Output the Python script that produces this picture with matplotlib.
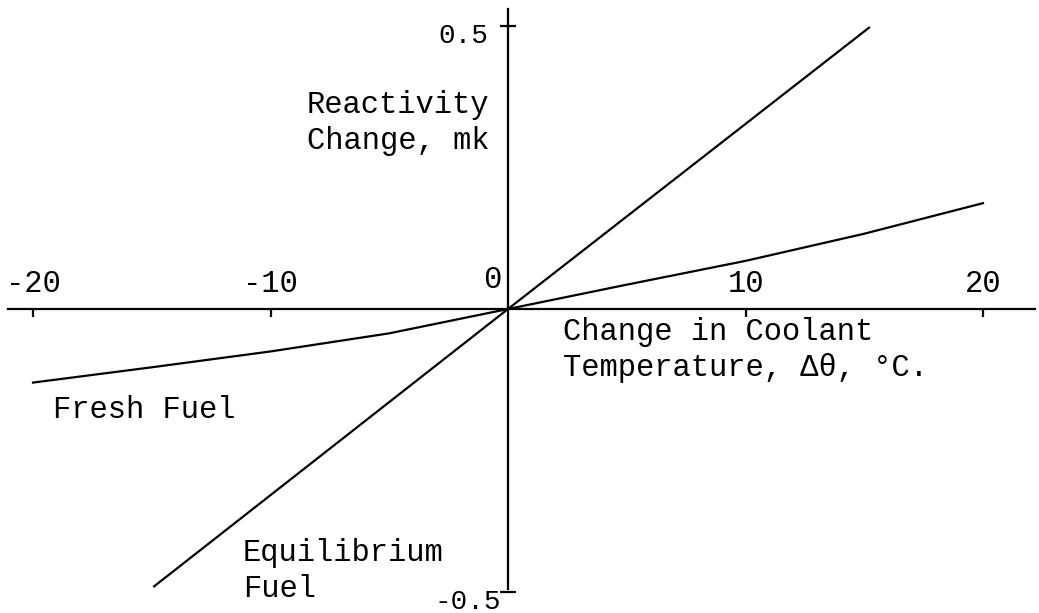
"""Reactivity change vs coolant temperature change, fresh and equilibrium fuel."""

import matplotlib

matplotlib.use("Agg")
import matplotlib.pyplot as plt
from matplotlib.transforms import ScaledTranslation

# values
temp_fresh = [-20, -15, -10, -5, 0, 5, 10, 15, 20]
rho_fresh = [-0.130, -0.103, -0.075, -0.043, 0.0, 0.043, 0.085, 0.133, 0.187]

temp_equil = [-14.9, 0, 15.2]
rho_equil = [-0.49, 0.0, 0.497]

x_ticks = [-20, -10, 10, 20]
x_labels = ["-20", "-10", "10", "20"]
y_ticks = [-0.5, 0.5]
y_labels = ["-0.5", "0.5"]

plt.rcParams["font.family"] = ["Liberation Mono", "DejaVu Sans Mono"]
plt.rcParams["axes.unicode_minus"] = False

FS = 22

fig = plt.figure(figsize=(10.39, 6.13), dpi=100)
ax = fig.add_axes([0, 0, 1, 1])

# pixel mapping: origin at (508, 309), 23.75 px per degree, 566 px per mk
ax.set_xlim(-508 / 23.75, (1039 - 508) / 23.75)
ax.set_ylim((309 - 613) / 566, 309 / 566)

ax.plot(temp_fresh, rho_fresh, color="black", linewidth=1.6)
ax.plot(temp_equil, rho_equil, color="black", linewidth=1.6)

for side in ("top", "right"):
    ax.spines[side].set_visible(False)
for side in ("left", "bottom"):
    ax.spines[side].set_position("zero")
    ax.spines[side].set_linewidth(1.6)
ax.spines["bottom"].set_bounds(-21.05, 22.2)
ax.spines["left"].set_bounds(-0.495, 0.53)

ax.set_xticks(x_ticks, x_labels)
ax.tick_params(axis="x", direction="out", length=6, width=1.6, pad=-35, labelsize=FS)
ax.set_yticks(y_ticks, y_labels, va="center")
ax.tick_params(axis="y", direction="inout", length=12, width=1.6, pad=8, labelsize=20)
# labels sit a little below their ticks; -0.5 also closer to the axis
for lab in ax.get_yticklabels():
    dx = 0.12 if lab.get_text().startswith("-") else 0.0
    lab.set_transform(lab.get_transform() + ScaledTranslation(dx, -0.1, fig.dpi_scale_trans))

ax.text(-0.3, 0.025, "0", ha="right", va="bottom", fontsize=FS)

kw = dict(ha="left", va="center", fontsize=FS, linespacing=1.25)
ax.text(-8.46, 0.328, "Reactivity\nChange, mk", **kw)
ax.text(2.32, -0.072, "Change in Coolant\nTemperature, Δθ, °C.", **kw)
ax.text(-19.16, -0.178, "Fresh Fuel", **kw)
ax.text(-11.16, -0.463, "Equilibrium\nFuel", **kw)

fig.savefig("out.png", dpi=100)
plt.close(fig)
